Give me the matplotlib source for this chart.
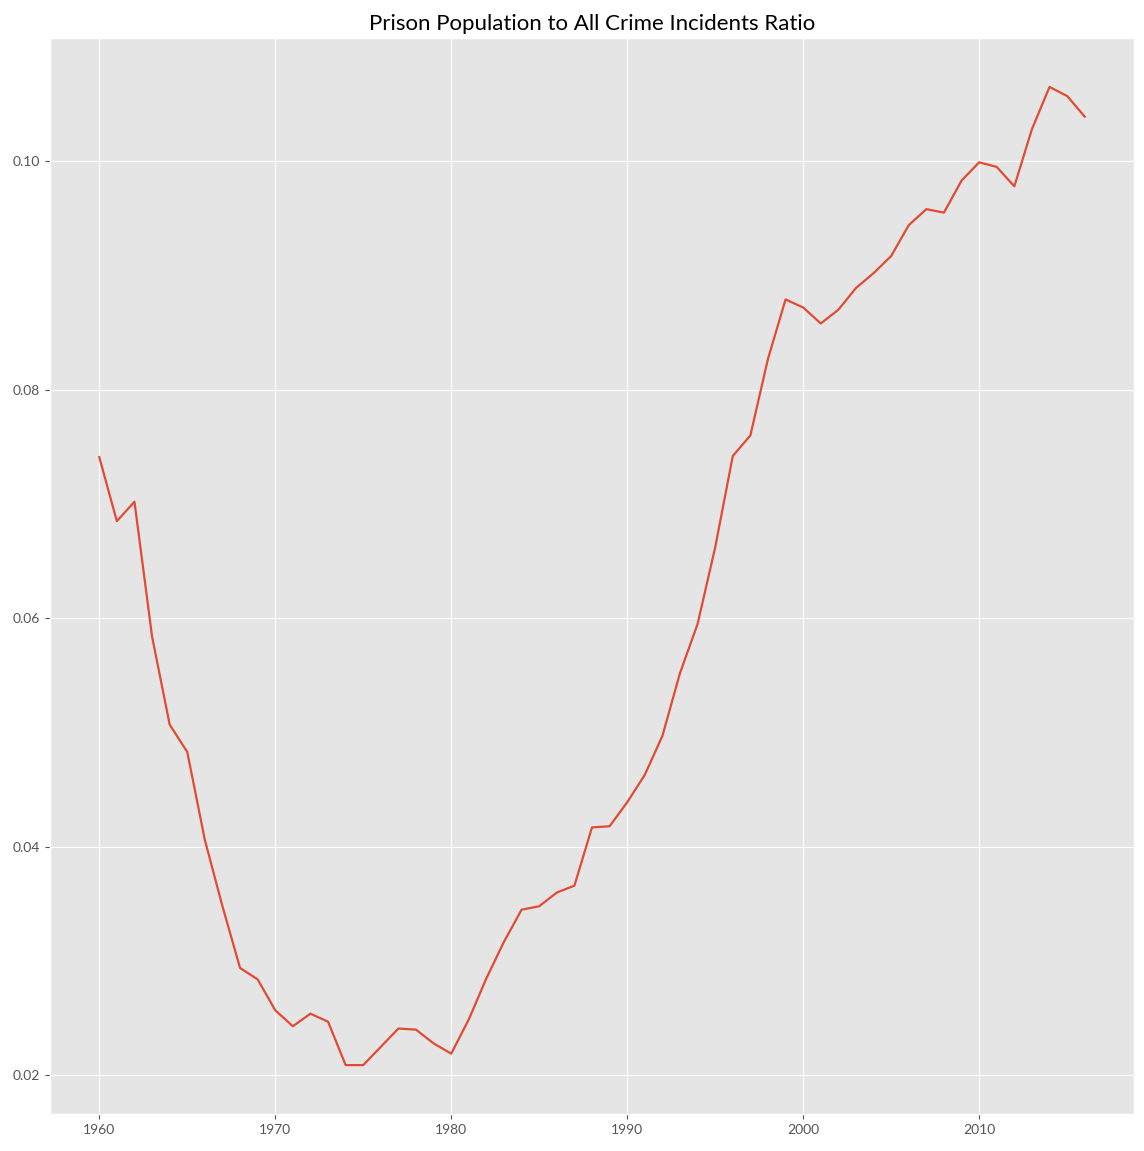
import matplotlib
matplotlib.use("Agg")
import matplotlib.pyplot as plt

plt.style.use("ggplot")
plt.rcParams['font.family'] = ['Lato', 'DejaVu Sans']

years = list(range(1960, 2017))
ratio = [0.0741, 0.0685, 0.0702, 0.0584, 0.0507, 0.0483, 0.0406, 0.0348, 0.0294, 0.0284,
         0.0257, 0.0243, 0.0254, 0.0247, 0.0209, 0.0209, 0.0225, 0.0241, 0.0240, 0.0228,
         0.0219, 0.0249, 0.0285, 0.0317, 0.0345, 0.0348, 0.0360, 0.0366, 0.0417, 0.0418,
         0.0439, 0.0463, 0.0497, 0.0552, 0.0595, 0.0662, 0.0742, 0.0760, 0.0827, 0.0879,
         0.0872, 0.0858, 0.0870, 0.0889, 0.0902, 0.0917, 0.0944, 0.0958, 0.0955, 0.0983,
         0.0999, 0.0995, 0.0978, 0.1028, 0.1065, 0.1057, 0.1039]

fig = plt.figure(figsize=(11.44, 11.51), dpi=100)
ax = fig.add_axes([50/1144, 1 - 1114/1151, (1134-50)/1144, (1114-38)/1151])
ax.plot(years, ratio, color='#E24A33', linewidth=1.6)
ax.set_title("Prison Population to All Crime Incidents Ratio", fontsize=16, color='black')
ax.tick_params(labelsize=10)
fig.savefig("out.png", dpi=100)
